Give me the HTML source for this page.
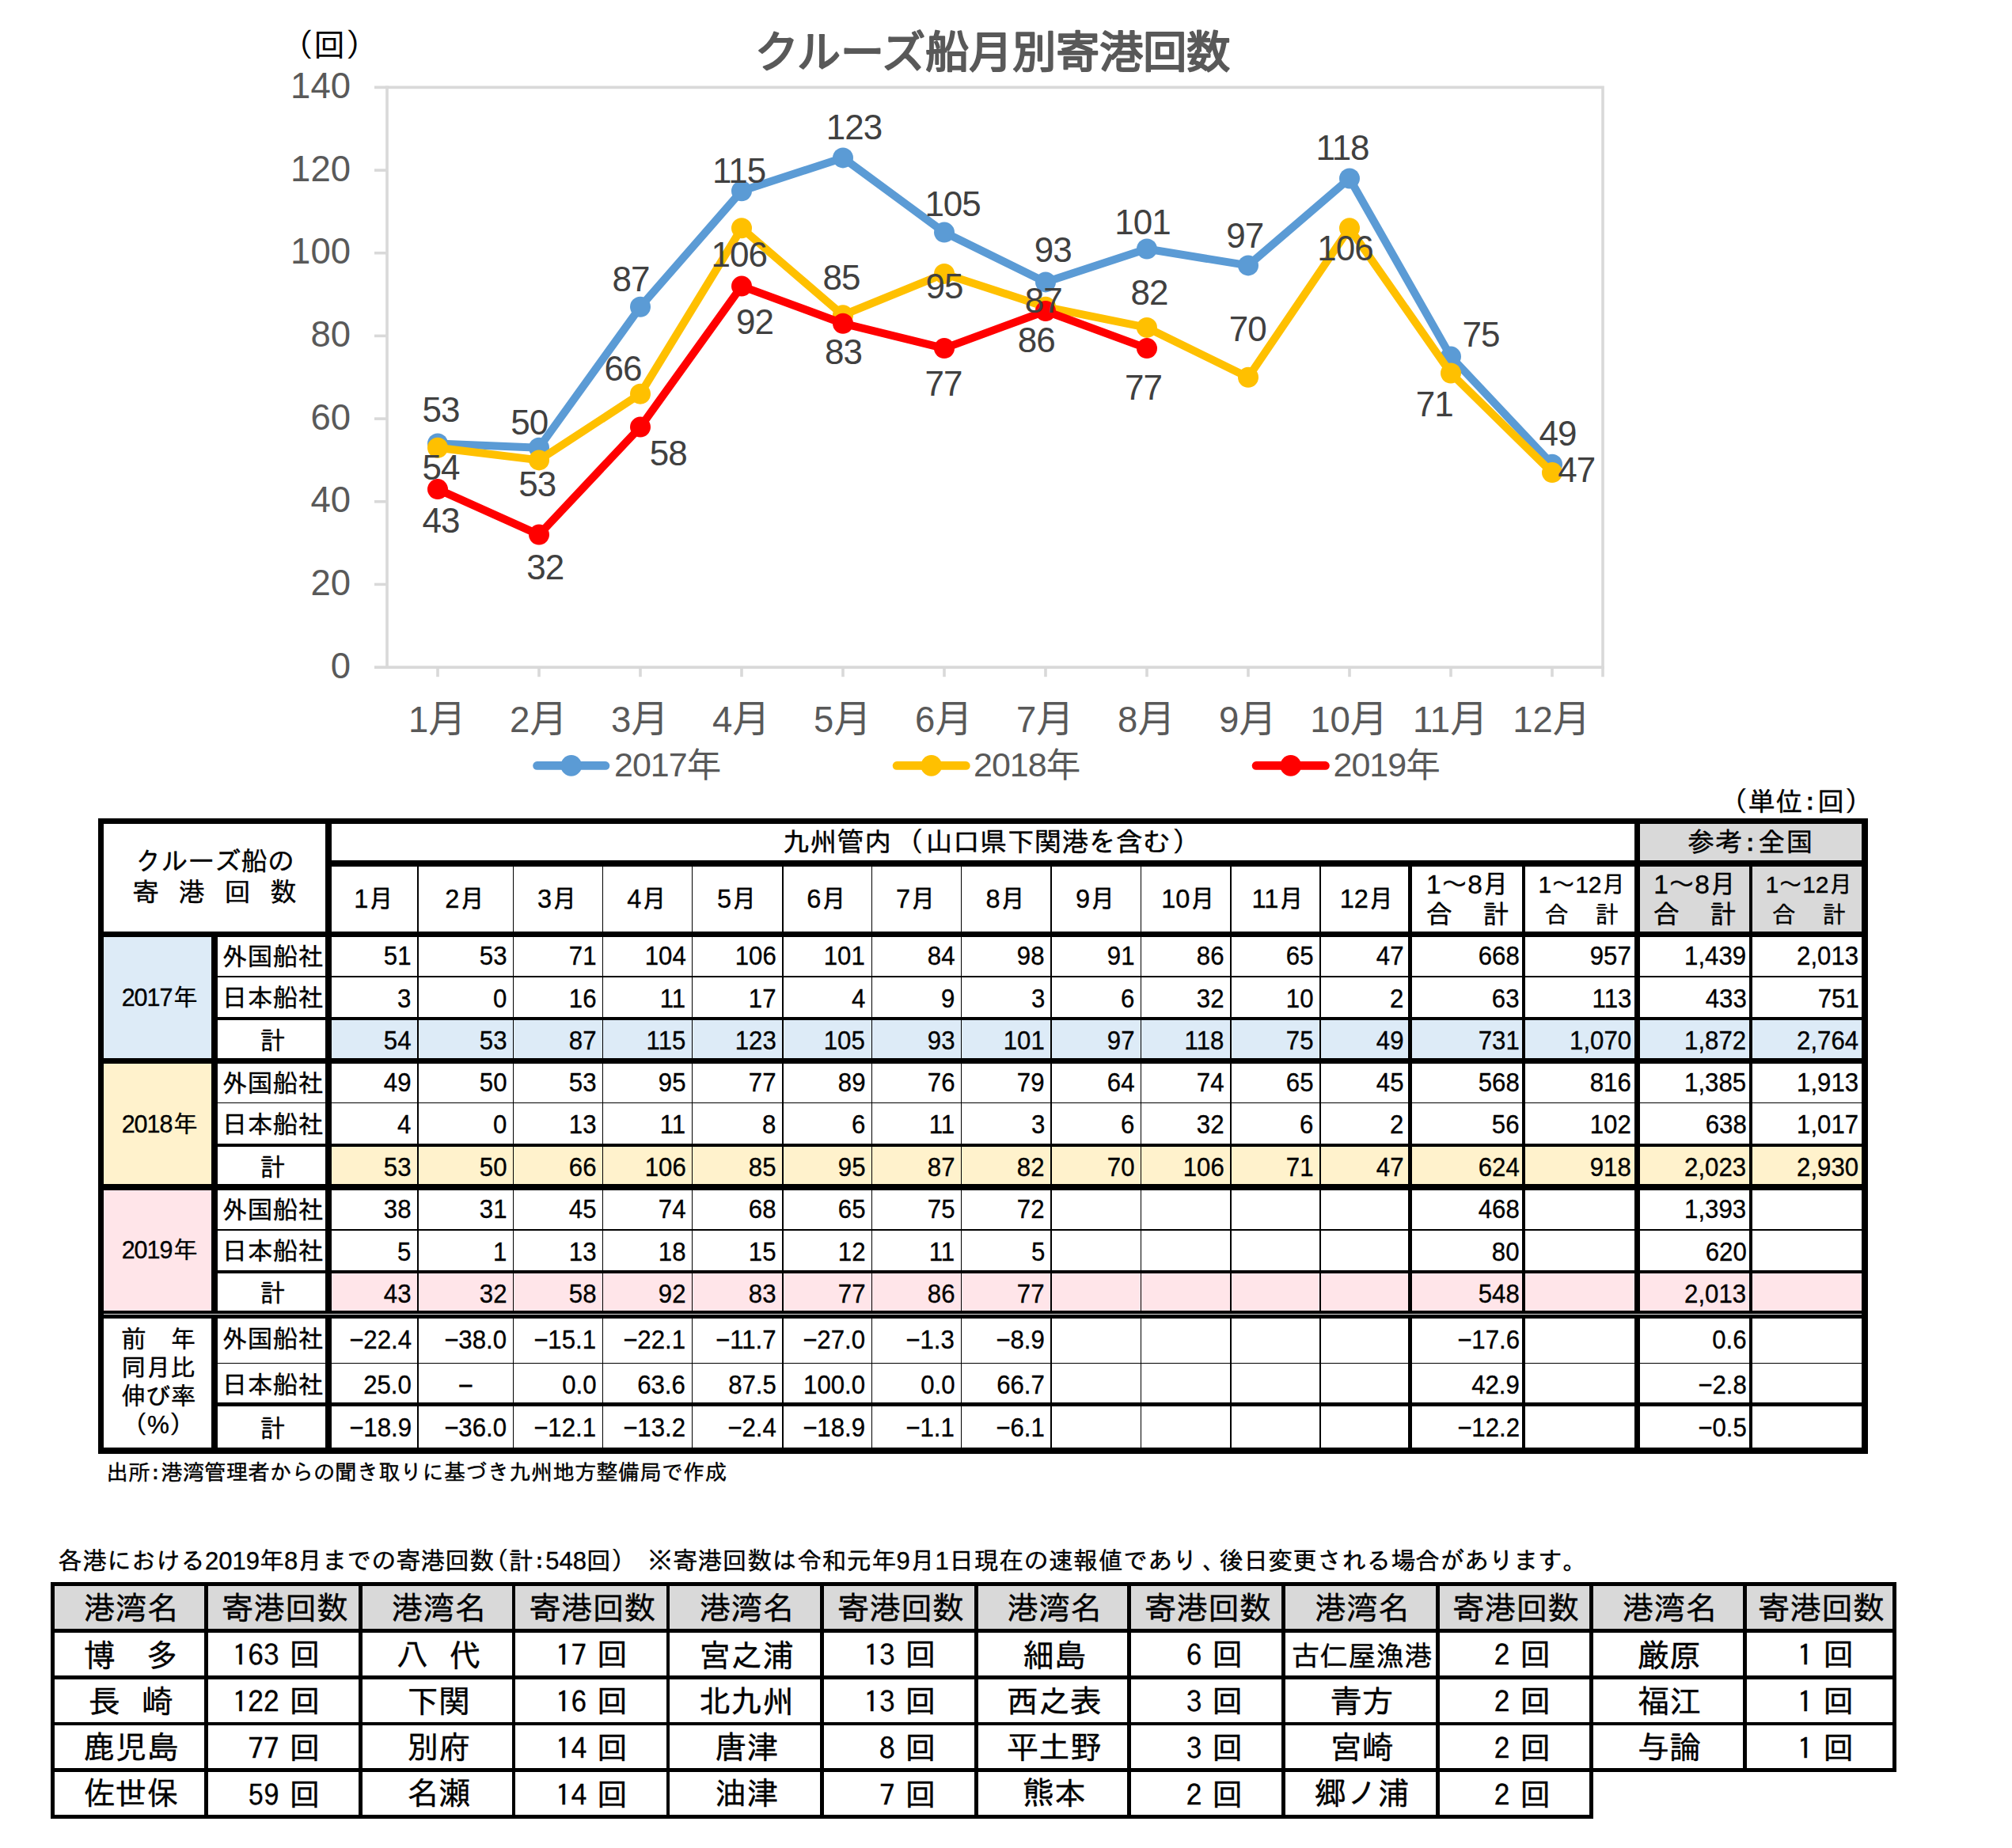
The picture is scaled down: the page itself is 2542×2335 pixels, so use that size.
<!DOCTYPE html>
<html lang="ja"><head><meta charset="utf-8"><title>クルーズ船月別寄港回数</title>
<style>
html,body{margin:0;padding:0;background:#fff;}
body{width:2542px;height:2335px;position:relative;overflow:hidden;font-family:"Liberation Sans","IPAGothic","Noto Sans CJK JP",sans-serif;color:#000;}
.r{position:absolute;}
.c,.d,.b{position:absolute;display:flex;align-items:center;justify-content:center;text-align:center;white-space:nowrap;line-height:1;overflow:visible;}
.c{font-size:32px;}
.d{font-size:32.8px;justify-content:flex-end;padding-right:7.5px;box-sizing:border-box;}
.b{font-family:"IPAGothic","Noto Sans CJK JP",sans-serif;}
.dg{display:inline-block;position:relative;top:2.2px;transform:scaleY(.9);}
.sx{display:inline-block;transform:scaleX(.95);transform-origin:100% 50%;}
.g{font-family:"IPAGothic","Noto Sans CJK JP",sans-serif !important;}
#t1,#t2,.n{-webkit-text-stroke:0.35px #000;}
.n{position:absolute;white-space:nowrap;font-family:"Liberation Sans","IPAGothic","Noto Sans CJK JP",sans-serif;}
</style></head><body>
<svg id="chart" width="2542" height="1030" viewBox="0 0 2542 1030" style="position:absolute;left:0;top:0">
<g stroke="#d9d9d9" stroke-width="3.6" fill="none" stroke-linecap="butt">
<path d="M473 110.4 H2025.0 V855.2"/>
<path d="M489.0 108.60000000000001 V843.1"/>
<path d="M473 843.1 H2026.8"/>
<path d="M473 738.4 H489.0"/>
<path d="M473 633.8 H489.0"/>
<path d="M473 529.1 H489.0"/>
<path d="M473 424.4 H489.0"/>
<path d="M473 319.7 H489.0"/>
<path d="M473 215.1 H489.0"/>
<path d="M553.0 843.1 V855.2"/>
<path d="M681.0 843.1 V855.2"/>
<path d="M809.0 843.1 V855.2"/>
<path d="M937.0 843.1 V855.2"/>
<path d="M1065.0 843.1 V855.2"/>
<path d="M1193.0 843.1 V855.2"/>
<path d="M1321.0 843.1 V855.2"/>
<path d="M1449.0 843.1 V855.2"/>
<path d="M1577.0 843.1 V855.2"/>
<path d="M1705.0 843.1 V855.2"/>
<path d="M1833.0 843.1 V855.2"/>
<path d="M1961.0 843.1 V855.2"/>
</g>
<g font-family="'Liberation Sans', sans-serif" font-size="45.5" fill="#595959" text-anchor="end">
<text x="443" y="856.7">0</text>
<text x="443" y="752.0">20</text>
<text x="443" y="647.4">40</text>
<text x="443" y="542.7">60</text>
<text x="443" y="438.0">80</text>
<text x="443" y="333.3">100</text>
<text x="443" y="228.7">120</text>
<text x="443" y="124.0">140</text>
</g>
<g font-size="45.5" fill="#595959" text-anchor="middle">
<text x="552.3" y="925.2"><tspan font-family="'Liberation Sans', sans-serif">1</tspan><tspan font-family="'Noto Sans CJK JP', sans-serif" font-size="47.5" dy="-0.6">月</tspan></text>
<text x="680.3" y="925.2"><tspan font-family="'Liberation Sans', sans-serif">2</tspan><tspan font-family="'Noto Sans CJK JP', sans-serif" font-size="47.5" dy="-0.6">月</tspan></text>
<text x="808.3" y="925.2"><tspan font-family="'Liberation Sans', sans-serif">3</tspan><tspan font-family="'Noto Sans CJK JP', sans-serif" font-size="47.5" dy="-0.6">月</tspan></text>
<text x="936.3" y="925.2"><tspan font-family="'Liberation Sans', sans-serif">4</tspan><tspan font-family="'Noto Sans CJK JP', sans-serif" font-size="47.5" dy="-0.6">月</tspan></text>
<text x="1064.3" y="925.2"><tspan font-family="'Liberation Sans', sans-serif">5</tspan><tspan font-family="'Noto Sans CJK JP', sans-serif" font-size="47.5" dy="-0.6">月</tspan></text>
<text x="1192.3" y="925.2"><tspan font-family="'Liberation Sans', sans-serif">6</tspan><tspan font-family="'Noto Sans CJK JP', sans-serif" font-size="47.5" dy="-0.6">月</tspan></text>
<text x="1320.3" y="925.2"><tspan font-family="'Liberation Sans', sans-serif">7</tspan><tspan font-family="'Noto Sans CJK JP', sans-serif" font-size="47.5" dy="-0.6">月</tspan></text>
<text x="1448.3" y="925.2"><tspan font-family="'Liberation Sans', sans-serif">8</tspan><tspan font-family="'Noto Sans CJK JP', sans-serif" font-size="47.5" dy="-0.6">月</tspan></text>
<text x="1576.3" y="925.2"><tspan font-family="'Liberation Sans', sans-serif">9</tspan><tspan font-family="'Noto Sans CJK JP', sans-serif" font-size="47.5" dy="-0.6">月</tspan></text>
<text x="1704.3" y="925.2"><tspan font-family="'Liberation Sans', sans-serif">10</tspan><tspan font-family="'Noto Sans CJK JP', sans-serif" font-size="47.5" dy="-0.6">月</tspan></text>
<text x="1832.3" y="925.2"><tspan font-family="'Liberation Sans', sans-serif">11</tspan><tspan font-family="'Noto Sans CJK JP', sans-serif" font-size="47.5" dy="-0.6">月</tspan></text>
<text x="1960.3" y="925.2"><tspan font-family="'Liberation Sans', sans-serif">12</tspan><tspan font-family="'Noto Sans CJK JP', sans-serif" font-size="47.5" dy="-0.6">月</tspan></text>
</g>
<polyline points="553.0,560.5 681.0,565.7 809.0,387.8 937.0,241.2 1065.0,199.4 1193.0,293.6 1321.0,356.4 1449.0,314.5 1577.0,335.4 1705.0,225.5 1833.0,450.6 1961.0,586.7" fill="none" stroke="#5b9bd5" stroke-width="10" stroke-linejoin="round" stroke-linecap="round"/>
<circle cx="553.0" cy="560.5" r="13" fill="#5b9bd5"/>
<circle cx="681.0" cy="565.7" r="13" fill="#5b9bd5"/>
<circle cx="809.0" cy="387.8" r="13" fill="#5b9bd5"/>
<circle cx="937.0" cy="241.2" r="13" fill="#5b9bd5"/>
<circle cx="1065.0" cy="199.4" r="13" fill="#5b9bd5"/>
<circle cx="1193.0" cy="293.6" r="13" fill="#5b9bd5"/>
<circle cx="1321.0" cy="356.4" r="13" fill="#5b9bd5"/>
<circle cx="1449.0" cy="314.5" r="13" fill="#5b9bd5"/>
<circle cx="1577.0" cy="335.4" r="13" fill="#5b9bd5"/>
<circle cx="1705.0" cy="225.5" r="13" fill="#5b9bd5"/>
<circle cx="1833.0" cy="450.6" r="13" fill="#5b9bd5"/>
<circle cx="1961.0" cy="586.7" r="13" fill="#5b9bd5"/>
<polyline points="553.0,565.7 681.0,581.4 809.0,497.7 937.0,288.3 1065.0,398.2 1193.0,345.9 1321.0,387.8 1449.0,413.9 1577.0,476.8 1705.0,288.3 1833.0,471.5 1961.0,597.1" fill="none" stroke="#ffc000" stroke-width="10" stroke-linejoin="round" stroke-linecap="round"/>
<circle cx="553.0" cy="565.7" r="13" fill="#ffc000"/>
<circle cx="681.0" cy="581.4" r="13" fill="#ffc000"/>
<circle cx="809.0" cy="497.7" r="13" fill="#ffc000"/>
<circle cx="937.0" cy="288.3" r="13" fill="#ffc000"/>
<circle cx="1065.0" cy="398.2" r="13" fill="#ffc000"/>
<circle cx="1193.0" cy="345.9" r="13" fill="#ffc000"/>
<circle cx="1321.0" cy="387.8" r="13" fill="#ffc000"/>
<circle cx="1449.0" cy="413.9" r="13" fill="#ffc000"/>
<circle cx="1577.0" cy="476.8" r="13" fill="#ffc000"/>
<circle cx="1705.0" cy="288.3" r="13" fill="#ffc000"/>
<circle cx="1833.0" cy="471.5" r="13" fill="#ffc000"/>
<circle cx="1961.0" cy="597.1" r="13" fill="#ffc000"/>
<polyline points="553.0,618.1 681.0,675.6 809.0,539.6 937.0,361.6 1065.0,408.7 1193.0,440.1 1321.0,393.0 1449.0,440.1" fill="none" stroke="#ff0000" stroke-width="10" stroke-linejoin="round" stroke-linecap="round"/>
<circle cx="553.0" cy="618.1" r="13" fill="#ff0000"/>
<circle cx="681.0" cy="675.6" r="13" fill="#ff0000"/>
<circle cx="809.0" cy="539.6" r="13" fill="#ff0000"/>
<circle cx="937.0" cy="361.6" r="13" fill="#ff0000"/>
<circle cx="1065.0" cy="408.7" r="13" fill="#ff0000"/>
<circle cx="1193.0" cy="440.1" r="13" fill="#ff0000"/>
<circle cx="1321.0" cy="393.0" r="13" fill="#ff0000"/>
<circle cx="1449.0" cy="440.1" r="13" fill="#ff0000"/>
<g font-family="'Liberation Sans', sans-serif" font-size="44" fill="#404040" text-anchor="middle" letter-spacing="-1">
<text x="557" y="532.9">53</text>
<text x="557" y="606.4">54</text>
<text x="557" y="673.4">43</text>
<text x="668.8" y="549.2">50</text>
<text x="678.7" y="627.2">53</text>
<text x="688.7" y="731.6">32</text>
<text x="797" y="367.8">87</text>
<text x="787" y="480.6">66</text>
<text x="844.2" y="587.9">58</text>
<text x="933.7" y="231.1">115</text>
<text x="933.7" y="336.9">106</text>
<text x="953.6" y="421.5">92</text>
<text x="1079" y="176.3">123</text>
<text x="1063" y="365.8">85</text>
<text x="1065.4" y="459.7">83</text>
<text x="1203.6" y="273.3">105</text>
<text x="1193" y="376.7">95</text>
<text x="1192" y="499.5">77</text>
<text x="1330.2" y="330.9">93</text>
<text x="1318.3" y="394.9">87</text>
<text x="1309.3" y="444.9">86</text>
<text x="1443.5" y="295.7">101</text>
<text x="1452" y="385.2">82</text>
<text x="1444.5" y="504.5">77</text>
<text x="1572.8" y="313.1">97</text>
<text x="1576.2" y="431.4">70</text>
<text x="1696" y="202.3">118</text>
<text x="1699.5" y="328.9">106</text>
<text x="1871" y="438.4">75</text>
<text x="1812.3" y="525.9">71</text>
<text x="1967.9" y="563.1">49</text>
<text x="1991.7" y="608.9">47</text>
</g>
<line x1="678.5" y1="967.4" x2="765" y2="967.4" stroke="#5b9bd5" stroke-width="10.6" stroke-linecap="round"/>
<circle cx="721.75" cy="967.4" r="13.3" fill="#5b9bd5"/>
<text x="776" y="981" font-size="43" fill="#595959"><tspan font-family="'Liberation Sans', sans-serif" letter-spacing="-1">2017</tspan><tspan font-family="'Noto Sans CJK JP', sans-serif" font-size="43.5" dy="1">年</tspan></text>
<line x1="1133" y1="967.4" x2="1220.4" y2="967.4" stroke="#ffc000" stroke-width="10.6" stroke-linecap="round"/>
<circle cx="1176.7" cy="967.4" r="13.3" fill="#ffc000"/>
<text x="1230" y="981" font-size="43" fill="#595959"><tspan font-family="'Liberation Sans', sans-serif" letter-spacing="-1">2018</tspan><tspan font-family="'Noto Sans CJK JP', sans-serif" font-size="43.5" dy="1">年</tspan></text>
<line x1="1587" y1="967.4" x2="1674.5" y2="967.4" stroke="#ff0000" stroke-width="10.6" stroke-linecap="round"/>
<circle cx="1630.75" cy="967.4" r="13.3" fill="#ff0000"/>
<text x="1684.5" y="981" font-size="43" fill="#595959"><tspan font-family="'Liberation Sans', sans-serif" letter-spacing="-1">2019</tspan><tspan font-family="'Noto Sans CJK JP', sans-serif" font-size="43.5" dy="1">年</tspan></text>
<text x="1254" y="84.5" text-anchor="middle" font-family="'Noto Sans CJK JP', sans-serif" font-weight="400" font-size="55" fill="#595959" stroke="#595959" stroke-width="2.2" stroke-linejoin="round" stroke-linecap="round">クルーズ船月別寄港回数</text>
<text x="355.5" y="71.4" font-family="'IPAGothic', 'Noto Sans CJK JP', sans-serif" font-size="40.5" fill="#000">（回）</text>
</svg>
<div id="t1">
<div class="r" style="left:131.0px;top:1183.5px;width:136.0px;height:153.2px;background:#ddebf7"></div>
<div class="r" style="left:131.0px;top:1344.0px;width:136.0px;height:152.0px;background:#fff2cc"></div>
<div class="r" style="left:131.0px;top:1503.6px;width:136.0px;height:152.0px;background:#ffe5e9"></div>
<div class="r" style="left:419.0px;top:1289.0px;width:1933.0px;height:47.7px;background:#ddebf7"></div>
<div class="r" style="left:419.0px;top:1449.0px;width:1933.0px;height:47.0px;background:#fff2cc"></div>
<div class="r" style="left:419.0px;top:1609.0px;width:1933.0px;height:46.6px;background:#ffe5e9"></div>
<div class="r" style="left:2071.9px;top:1041.0px;width:280.1px;height:135.5px;background:#d9d9d9"></div>
<div class="r" style="left:124.0px;top:1034.0px;width:2235.5px;height:7.0px;background:#000"></div>
<div class="r" style="left:419.0px;top:1087.0px;width:1933.0px;height:8.0px;background:#000"></div>
<div class="r" style="left:124.0px;top:1176.5px;width:2235.5px;height:7.0px;background:#000"></div>
<div class="r" style="left:275.0px;top:1233.2px;width:2077.0px;height:1.8px;background:#000"></div>
<div class="r" style="left:275.0px;top:1284.8px;width:2077.0px;height:4.2px;background:#000"></div>
<div class="r" style="left:124.0px;top:1336.7px;width:2235.5px;height:7.3px;background:#000"></div>
<div class="r" style="left:275.0px;top:1392.7px;width:2077.0px;height:1.5px;background:#000"></div>
<div class="r" style="left:275.0px;top:1444.8px;width:2077.0px;height:4.2px;background:#000"></div>
<div class="r" style="left:124.0px;top:1496.0px;width:2235.5px;height:7.6px;background:#000"></div>
<div class="r" style="left:275.0px;top:1553.2px;width:2077.0px;height:1.5px;background:#000"></div>
<div class="r" style="left:275.0px;top:1604.8px;width:2077.0px;height:4.2px;background:#000"></div>
<div class="r" style="left:124.0px;top:1655.6px;width:2235.5px;height:4.2px;background:#000"></div>
<div class="r" style="left:124.0px;top:1661.0px;width:2235.5px;height:4.6px;background:#000"></div>
<div class="r" style="left:275.0px;top:1721.9px;width:2077.0px;height:1.3px;background:#000"></div>
<div class="r" style="left:275.0px;top:1771.7px;width:2077.0px;height:4.9px;background:#000"></div>
<div class="r" style="left:124.0px;top:1829.0px;width:2235.5px;height:7.7px;background:#000"></div>
<div class="r" style="left:124.0px;top:1034.0px;width:7.0px;height:802.7px;background:#000"></div>
<div class="r" style="left:267.0px;top:1183.5px;width:8.0px;height:645.5px;background:#000"></div>
<div class="r" style="left:411.0px;top:1034.0px;width:8.0px;height:802.7px;background:#000"></div>
<div class="r" style="left:527.2px;top:1095.0px;width:1.5px;height:734.0px;background:#000"></div>
<div class="r" style="left:647.5px;top:1095.0px;width:1.5px;height:734.0px;background:#000"></div>
<div class="r" style="left:760.6px;top:1095.0px;width:1.5px;height:734.0px;background:#000"></div>
<div class="r" style="left:873.9px;top:1095.0px;width:1.5px;height:734.0px;background:#000"></div>
<div class="r" style="left:988.0px;top:1095.0px;width:1.5px;height:734.0px;background:#000"></div>
<div class="r" style="left:1100.5px;top:1095.0px;width:1.5px;height:734.0px;background:#000"></div>
<div class="r" style="left:1213.7px;top:1095.0px;width:1.5px;height:734.0px;background:#000"></div>
<div class="r" style="left:1327.3px;top:1095.0px;width:1.5px;height:734.0px;background:#000"></div>
<div class="r" style="left:1440.7px;top:1095.0px;width:1.5px;height:734.0px;background:#000"></div>
<div class="r" style="left:1553.8px;top:1095.0px;width:2.3px;height:734.0px;background:#000"></div>
<div class="r" style="left:1667.2px;top:1095.0px;width:1.5px;height:734.0px;background:#000"></div>
<div class="r" style="left:1778.7px;top:1095.0px;width:5.5px;height:734.0px;background:#000"></div>
<div class="r" style="left:1923.2px;top:1095.0px;width:4.1px;height:734.0px;background:#000"></div>
<div class="r" style="left:2064.7px;top:1034.0px;width:7.2px;height:802.7px;background:#000"></div>
<div class="r" style="left:2209.8px;top:1095.0px;width:4.2px;height:734.0px;background:#000"></div>
<div class="r" style="left:2352.0px;top:1034.0px;width:7.5px;height:802.7px;background:#000"></div>
<div class="r" style="left:131.0px;top:1659.8px;width:2221.0px;height:1.2px;background:#e8e8e8"></div>
<div class="c" style="left:131.0px;top:1041.0px;width:280.0px;height:135.5px;"><div style="position:absolute;left:0;right:0;top:31px;font-size:33.5px;line-height:34px">クルーズ船の</div><div style="position:absolute;left:0;right:0;top:70px;font-size:33.5px;line-height:34px;letter-spacing:24.5px;margin-left:24.5px">寄港回数</div></div>
<div class="c" style="left:419.0px;top:1041.0px;width:1645.7px;height:46.0px;font-size:34.3px;padding-left:20.8px;box-sizing:border-box;">九州管内<span style="margin:0 3px 0 6px">（</span>山口県下関港を含む<span style="margin-left:3px">）</span></div>
<div class="c" style="left:2071.9px;top:1041.0px;width:280.1px;height:46.0px;font-size:34px;letter-spacing:1.4px;">参考<span class="g">:</span>全国</div>
<div class="c" style="left:419.0px;top:1095.0px;width:108.2px;height:81.5px;font-size:32.5px;box-sizing:border-box;padding-right:1px;">1月</div>
<div class="c" style="left:528.8px;top:1095.0px;width:118.7px;height:81.5px;font-size:32.5px;box-sizing:border-box;padding-right:1px;">2月</div>
<div class="c" style="left:649.0px;top:1095.0px;width:111.7px;height:81.5px;font-size:32.5px;box-sizing:border-box;padding-right:1px;">3月</div>
<div class="c" style="left:762.1px;top:1095.0px;width:111.7px;height:81.5px;font-size:32.5px;box-sizing:border-box;padding-right:1px;">4月</div>
<div class="c" style="left:875.4px;top:1095.0px;width:112.6px;height:81.5px;font-size:32.5px;box-sizing:border-box;padding-right:1px;">5月</div>
<div class="c" style="left:989.5px;top:1095.0px;width:111.1px;height:81.5px;font-size:32.5px;box-sizing:border-box;padding-right:1px;">6月</div>
<div class="c" style="left:1102.0px;top:1095.0px;width:111.6px;height:81.5px;font-size:32.5px;box-sizing:border-box;padding-right:1px;">7月</div>
<div class="c" style="left:1215.2px;top:1095.0px;width:112.2px;height:81.5px;font-size:32.5px;box-sizing:border-box;padding-right:1px;">8月</div>
<div class="c" style="left:1328.8px;top:1095.0px;width:111.8px;height:81.5px;font-size:32.5px;box-sizing:border-box;padding-right:1px;">9月</div>
<div class="c" style="left:1442.2px;top:1095.0px;width:112.0px;height:81.5px;font-size:32.5px;box-sizing:border-box;padding-left:6.6px;">10月</div>
<div class="c" style="left:1555.7px;top:1095.0px;width:111.5px;height:81.5px;font-size:32.5px;box-sizing:border-box;padding-left:6.6px;">11月</div>
<div class="c" style="left:1668.7px;top:1095.0px;width:110.0px;height:81.5px;font-size:32.5px;box-sizing:border-box;padding-left:6.6px;">12月</div>
<div class="c" style="left:1784.2px;top:1095.0px;width:139.0px;height:81.5px;"><div style="position:absolute;left:0.5px;right:-0.5px;top:5.5px;font-size:33.5px;line-height:34px">1～8月</div><div style="position:absolute;left:0.5px;right:-0.5px;top:43.5px;font-size:33.5px;line-height:34px">合<span style="display:inline-block;width:38px"></span>計</div></div>
<div class="c" style="left:1927.3px;top:1095.0px;width:137.4px;height:81.5px;"><div style="position:absolute;left:2.5px;right:-2.5px;top:5.5px;font-size:30px;line-height:34px">1～12月</div><div style="position:absolute;left:2.5px;right:-2.5px;top:43.5px;font-size:30px;line-height:34px">合<span style="display:inline-block;width:33.5px"></span>計</div></div>
<div class="c" style="left:2071.9px;top:1095.0px;width:137.9px;height:81.5px;"><div style="position:absolute;left:0.5px;right:-0.5px;top:5.5px;font-size:33.5px;line-height:34px">1～8月</div><div style="position:absolute;left:0.5px;right:-0.5px;top:43.5px;font-size:33.5px;line-height:34px">合<span style="display:inline-block;width:38px"></span>計</div></div>
<div class="c" style="left:2214.0px;top:1095.0px;width:138.0px;height:81.5px;"><div style="position:absolute;left:2.5px;right:-2.5px;top:5.5px;font-size:30px;line-height:34px">1～12月</div><div style="position:absolute;left:2.5px;right:-2.5px;top:43.5px;font-size:30px;line-height:34px">合<span style="display:inline-block;width:33.5px"></span>計</div></div>
<div class="c" style="left:131.0px;top:1183.5px;width:136.0px;height:153.2px;font-size:30.5px;padding-left:5px;box-sizing:border-box;"><span style="letter-spacing:-1px">2017</span><span style="margin-left:1.4px">年</span></div>
<div class="c" style="left:131.0px;top:1344.0px;width:136.0px;height:152.0px;font-size:30.5px;padding-left:5px;box-sizing:border-box;"><span style="letter-spacing:-1px">2018</span><span style="margin-left:1.4px">年</span></div>
<div class="c" style="left:131.0px;top:1503.6px;width:136.0px;height:152.0px;font-size:30.5px;padding-left:5px;box-sizing:border-box;"><span style="letter-spacing:-1px">2019</span><span style="margin-left:1.4px">年</span></div>
<div class="c" style="left:131.0px;top:1665.6px;width:136.0px;height:163.4px;"><div style="font-size:31.3px;line-height:36px;margin-top:-1.2px;margin-left:2px">前<span style="display:inline-block;width:31.3px"></span>年<br>同月比<br>伸び率<br>（%）</div></div>
<div class="c" style="left:275.0px;top:1184.0px;width:136.0px;height:49.7px;font-size:32px;padding-left:2.8px;box-sizing:border-box;">外国船社</div>
<div class="c" style="left:275.0px;top:1236.5px;width:136.0px;height:49.8px;font-size:32px;padding-left:2.8px;box-sizing:border-box;">日本船社</div>
<div class="c" style="left:275.0px;top:1291.2px;width:136.0px;height:47.7px;font-size:32px;padding-left:2.8px;box-sizing:border-box;">計</div>
<div class="c" style="left:275.0px;top:1344.5px;width:136.0px;height:48.7px;font-size:32px;padding-left:2.8px;box-sizing:border-box;">外国船社</div>
<div class="c" style="left:275.0px;top:1395.7px;width:136.0px;height:50.6px;font-size:32px;padding-left:2.8px;box-sizing:border-box;">日本船社</div>
<div class="c" style="left:275.0px;top:1451.2px;width:136.0px;height:47.0px;font-size:32px;padding-left:2.8px;box-sizing:border-box;">計</div>
<div class="c" style="left:275.0px;top:1504.3px;width:136.0px;height:49.6px;font-size:32px;padding-left:2.8px;box-sizing:border-box;">外国船社</div>
<div class="c" style="left:275.0px;top:1556.2px;width:136.0px;height:50.1px;font-size:32px;padding-left:2.8px;box-sizing:border-box;">日本船社</div>
<div class="c" style="left:275.0px;top:1611.2px;width:136.0px;height:46.6px;font-size:32px;padding-left:2.8px;box-sizing:border-box;">計</div>
<div class="c" style="left:275.0px;top:1664.1px;width:136.0px;height:56.3px;font-size:32px;padding-left:2.8px;box-sizing:border-box;">外国船社</div>
<div class="c" style="left:275.0px;top:1725.8px;width:136.0px;height:48.5px;font-size:32px;padding-left:2.8px;box-sizing:border-box;">日本船社</div>
<div class="c" style="left:275.0px;top:1778.4px;width:136.0px;height:52.4px;font-size:32px;padding-left:2.8px;box-sizing:border-box;">計</div>
<div class="d" style="left:419.0px;top:1184.0px;width:108.2px;height:49.7px;padding-right:7.5px;"><span class="sx">51</span></div>
<div class="d" style="left:528.8px;top:1184.0px;width:118.7px;height:49.7px;padding-right:7.5px;"><span class="sx">53</span></div>
<div class="d" style="left:649.0px;top:1184.0px;width:111.7px;height:49.7px;padding-right:7.5px;"><span class="sx">71</span></div>
<div class="d" style="left:762.1px;top:1184.0px;width:111.7px;height:49.7px;padding-right:7.5px;"><span class="sx">104</span></div>
<div class="d" style="left:875.4px;top:1184.0px;width:112.6px;height:49.7px;padding-right:7.5px;"><span class="sx">106</span></div>
<div class="d" style="left:989.5px;top:1184.0px;width:111.1px;height:49.7px;padding-right:7.5px;"><span class="sx">101</span></div>
<div class="d" style="left:1102.0px;top:1184.0px;width:111.6px;height:49.7px;padding-right:7.5px;"><span class="sx">84</span></div>
<div class="d" style="left:1215.2px;top:1184.0px;width:112.2px;height:49.7px;padding-right:7.5px;"><span class="sx">98</span></div>
<div class="d" style="left:1328.8px;top:1184.0px;width:111.8px;height:49.7px;padding-right:7.5px;"><span class="sx">91</span></div>
<div class="d" style="left:1442.2px;top:1184.0px;width:112.0px;height:49.7px;padding-right:7.5px;"><span class="sx">86</span></div>
<div class="d" style="left:1555.7px;top:1184.0px;width:111.5px;height:49.7px;padding-right:7.5px;"><span class="sx">65</span></div>
<div class="d" style="left:1668.7px;top:1184.0px;width:110.0px;height:49.7px;padding-right:5.5px;"><span class="sx">47</span></div>
<div class="d" style="left:1784.2px;top:1184.0px;width:139.0px;height:49.7px;padding-right:3.5px;"><span class="sx">668</span></div>
<div class="d" style="left:1927.3px;top:1184.0px;width:137.4px;height:49.7px;padding-right:3.5px;"><span class="sx">957</span></div>
<div class="d" style="left:2071.9px;top:1184.0px;width:137.9px;height:49.7px;padding-right:3.5px;"><span class="sx">1,439</span></div>
<div class="d" style="left:2214.0px;top:1184.0px;width:138.0px;height:49.7px;padding-right:3.5px;"><span class="sx">2,013</span></div>
<div class="d" style="left:419.0px;top:1237.0px;width:108.2px;height:49.8px;padding-right:7.5px;"><span class="sx">3</span></div>
<div class="d" style="left:528.8px;top:1237.0px;width:118.7px;height:49.8px;padding-right:7.5px;"><span class="sx">0</span></div>
<div class="d" style="left:649.0px;top:1237.0px;width:111.7px;height:49.8px;padding-right:7.5px;"><span class="sx">16</span></div>
<div class="d" style="left:762.1px;top:1237.0px;width:111.7px;height:49.8px;padding-right:7.5px;"><span class="sx">11</span></div>
<div class="d" style="left:875.4px;top:1237.0px;width:112.6px;height:49.8px;padding-right:7.5px;"><span class="sx">17</span></div>
<div class="d" style="left:989.5px;top:1237.0px;width:111.1px;height:49.8px;padding-right:7.5px;"><span class="sx">4</span></div>
<div class="d" style="left:1102.0px;top:1237.0px;width:111.6px;height:49.8px;padding-right:7.5px;"><span class="sx">9</span></div>
<div class="d" style="left:1215.2px;top:1237.0px;width:112.2px;height:49.8px;padding-right:7.5px;"><span class="sx">3</span></div>
<div class="d" style="left:1328.8px;top:1237.0px;width:111.8px;height:49.8px;padding-right:7.5px;"><span class="sx">6</span></div>
<div class="d" style="left:1442.2px;top:1237.0px;width:112.0px;height:49.8px;padding-right:7.5px;"><span class="sx">32</span></div>
<div class="d" style="left:1555.7px;top:1237.0px;width:111.5px;height:49.8px;padding-right:7.5px;"><span class="sx">10</span></div>
<div class="d" style="left:1668.7px;top:1237.0px;width:110.0px;height:49.8px;padding-right:5.5px;"><span class="sx">2</span></div>
<div class="d" style="left:1784.2px;top:1237.0px;width:139.0px;height:49.8px;padding-right:3.5px;"><span class="sx">63</span></div>
<div class="d" style="left:1927.3px;top:1237.0px;width:137.4px;height:49.8px;padding-right:3.5px;"><span class="sx">113</span></div>
<div class="d" style="left:2071.9px;top:1237.0px;width:137.9px;height:49.8px;padding-right:3.5px;"><span class="sx">433</span></div>
<div class="d" style="left:2214.0px;top:1237.0px;width:138.0px;height:49.8px;padding-right:3.5px;"><span class="sx">751</span></div>
<div class="d" style="left:419.0px;top:1291.1px;width:108.2px;height:47.7px;padding-right:7.5px;"><span class="sx">54</span></div>
<div class="d" style="left:528.8px;top:1291.1px;width:118.7px;height:47.7px;padding-right:7.5px;"><span class="sx">53</span></div>
<div class="d" style="left:649.0px;top:1291.1px;width:111.7px;height:47.7px;padding-right:7.5px;"><span class="sx">87</span></div>
<div class="d" style="left:762.1px;top:1291.1px;width:111.7px;height:47.7px;padding-right:7.5px;"><span class="sx">115</span></div>
<div class="d" style="left:875.4px;top:1291.1px;width:112.6px;height:47.7px;padding-right:7.5px;"><span class="sx">123</span></div>
<div class="d" style="left:989.5px;top:1291.1px;width:111.1px;height:47.7px;padding-right:7.5px;"><span class="sx">105</span></div>
<div class="d" style="left:1102.0px;top:1291.1px;width:111.6px;height:47.7px;padding-right:7.5px;"><span class="sx">93</span></div>
<div class="d" style="left:1215.2px;top:1291.1px;width:112.2px;height:47.7px;padding-right:7.5px;"><span class="sx">101</span></div>
<div class="d" style="left:1328.8px;top:1291.1px;width:111.8px;height:47.7px;padding-right:7.5px;"><span class="sx">97</span></div>
<div class="d" style="left:1442.2px;top:1291.1px;width:112.0px;height:47.7px;padding-right:7.5px;"><span class="sx">118</span></div>
<div class="d" style="left:1555.7px;top:1291.1px;width:111.5px;height:47.7px;padding-right:7.5px;"><span class="sx">75</span></div>
<div class="d" style="left:1668.7px;top:1291.1px;width:110.0px;height:47.7px;padding-right:5.5px;"><span class="sx">49</span></div>
<div class="d" style="left:1784.2px;top:1291.1px;width:139.0px;height:47.7px;padding-right:3.5px;"><span class="sx">731</span></div>
<div class="d" style="left:1927.3px;top:1291.1px;width:137.4px;height:47.7px;padding-right:3.5px;"><span class="sx">1,070</span></div>
<div class="d" style="left:2071.9px;top:1291.1px;width:137.9px;height:47.7px;padding-right:3.5px;"><span class="sx">1,872</span></div>
<div class="d" style="left:2214.0px;top:1291.1px;width:138.0px;height:47.7px;padding-right:3.5px;"><span class="sx">2,764</span></div>
<div class="d" style="left:419.0px;top:1344.5px;width:108.2px;height:48.7px;padding-right:7.5px;"><span class="sx">49</span></div>
<div class="d" style="left:528.8px;top:1344.5px;width:118.7px;height:48.7px;padding-right:7.5px;"><span class="sx">50</span></div>
<div class="d" style="left:649.0px;top:1344.5px;width:111.7px;height:48.7px;padding-right:7.5px;"><span class="sx">53</span></div>
<div class="d" style="left:762.1px;top:1344.5px;width:111.7px;height:48.7px;padding-right:7.5px;"><span class="sx">95</span></div>
<div class="d" style="left:875.4px;top:1344.5px;width:112.6px;height:48.7px;padding-right:7.5px;"><span class="sx">77</span></div>
<div class="d" style="left:989.5px;top:1344.5px;width:111.1px;height:48.7px;padding-right:7.5px;"><span class="sx">89</span></div>
<div class="d" style="left:1102.0px;top:1344.5px;width:111.6px;height:48.7px;padding-right:7.5px;"><span class="sx">76</span></div>
<div class="d" style="left:1215.2px;top:1344.5px;width:112.2px;height:48.7px;padding-right:7.5px;"><span class="sx">79</span></div>
<div class="d" style="left:1328.8px;top:1344.5px;width:111.8px;height:48.7px;padding-right:7.5px;"><span class="sx">64</span></div>
<div class="d" style="left:1442.2px;top:1344.5px;width:112.0px;height:48.7px;padding-right:7.5px;"><span class="sx">74</span></div>
<div class="d" style="left:1555.7px;top:1344.5px;width:111.5px;height:48.7px;padding-right:7.5px;"><span class="sx">65</span></div>
<div class="d" style="left:1668.7px;top:1344.5px;width:110.0px;height:48.7px;padding-right:5.5px;"><span class="sx">45</span></div>
<div class="d" style="left:1784.2px;top:1344.5px;width:139.0px;height:48.7px;padding-right:3.5px;"><span class="sx">568</span></div>
<div class="d" style="left:1927.3px;top:1344.5px;width:137.4px;height:48.7px;padding-right:3.5px;"><span class="sx">816</span></div>
<div class="d" style="left:2071.9px;top:1344.5px;width:137.9px;height:48.7px;padding-right:3.5px;"><span class="sx">1,385</span></div>
<div class="d" style="left:2214.0px;top:1344.5px;width:138.0px;height:48.7px;padding-right:3.5px;"><span class="sx">1,913</span></div>
<div class="d" style="left:419.0px;top:1396.5px;width:108.2px;height:50.6px;padding-right:7.5px;"><span class="sx">4</span></div>
<div class="d" style="left:528.8px;top:1396.5px;width:118.7px;height:50.6px;padding-right:7.5px;"><span class="sx">0</span></div>
<div class="d" style="left:649.0px;top:1396.5px;width:111.7px;height:50.6px;padding-right:7.5px;"><span class="sx">13</span></div>
<div class="d" style="left:762.1px;top:1396.5px;width:111.7px;height:50.6px;padding-right:7.5px;"><span class="sx">11</span></div>
<div class="d" style="left:875.4px;top:1396.5px;width:112.6px;height:50.6px;padding-right:7.5px;"><span class="sx">8</span></div>
<div class="d" style="left:989.5px;top:1396.5px;width:111.1px;height:50.6px;padding-right:7.5px;"><span class="sx">6</span></div>
<div class="d" style="left:1102.0px;top:1396.5px;width:111.6px;height:50.6px;padding-right:7.5px;"><span class="sx">11</span></div>
<div class="d" style="left:1215.2px;top:1396.5px;width:112.2px;height:50.6px;padding-right:7.5px;"><span class="sx">3</span></div>
<div class="d" style="left:1328.8px;top:1396.5px;width:111.8px;height:50.6px;padding-right:7.5px;"><span class="sx">6</span></div>
<div class="d" style="left:1442.2px;top:1396.5px;width:112.0px;height:50.6px;padding-right:7.5px;"><span class="sx">32</span></div>
<div class="d" style="left:1555.7px;top:1396.5px;width:111.5px;height:50.6px;padding-right:7.5px;"><span class="sx">6</span></div>
<div class="d" style="left:1668.7px;top:1396.5px;width:110.0px;height:50.6px;padding-right:5.5px;"><span class="sx">2</span></div>
<div class="d" style="left:1784.2px;top:1396.5px;width:139.0px;height:50.6px;padding-right:3.5px;"><span class="sx">56</span></div>
<div class="d" style="left:1927.3px;top:1396.5px;width:137.4px;height:50.6px;padding-right:3.5px;"><span class="sx">102</span></div>
<div class="d" style="left:2071.9px;top:1396.5px;width:137.9px;height:50.6px;padding-right:3.5px;"><span class="sx">638</span></div>
<div class="d" style="left:2214.0px;top:1396.5px;width:138.0px;height:50.6px;padding-right:3.5px;"><span class="sx">1,017</span></div>
<div class="d" style="left:419.0px;top:1451.5px;width:108.2px;height:47.0px;padding-right:7.5px;"><span class="sx">53</span></div>
<div class="d" style="left:528.8px;top:1451.5px;width:118.7px;height:47.0px;padding-right:7.5px;"><span class="sx">50</span></div>
<div class="d" style="left:649.0px;top:1451.5px;width:111.7px;height:47.0px;padding-right:7.5px;"><span class="sx">66</span></div>
<div class="d" style="left:762.1px;top:1451.5px;width:111.7px;height:47.0px;padding-right:7.5px;"><span class="sx">106</span></div>
<div class="d" style="left:875.4px;top:1451.5px;width:112.6px;height:47.0px;padding-right:7.5px;"><span class="sx">85</span></div>
<div class="d" style="left:989.5px;top:1451.5px;width:111.1px;height:47.0px;padding-right:7.5px;"><span class="sx">95</span></div>
<div class="d" style="left:1102.0px;top:1451.5px;width:111.6px;height:47.0px;padding-right:7.5px;"><span class="sx">87</span></div>
<div class="d" style="left:1215.2px;top:1451.5px;width:112.2px;height:47.0px;padding-right:7.5px;"><span class="sx">82</span></div>
<div class="d" style="left:1328.8px;top:1451.5px;width:111.8px;height:47.0px;padding-right:7.5px;"><span class="sx">70</span></div>
<div class="d" style="left:1442.2px;top:1451.5px;width:112.0px;height:47.0px;padding-right:7.5px;"><span class="sx">106</span></div>
<div class="d" style="left:1555.7px;top:1451.5px;width:111.5px;height:47.0px;padding-right:7.5px;"><span class="sx">71</span></div>
<div class="d" style="left:1668.7px;top:1451.5px;width:110.0px;height:47.0px;padding-right:5.5px;"><span class="sx">47</span></div>
<div class="d" style="left:1784.2px;top:1451.5px;width:139.0px;height:47.0px;padding-right:3.5px;"><span class="sx">624</span></div>
<div class="d" style="left:1927.3px;top:1451.5px;width:137.4px;height:47.0px;padding-right:3.5px;"><span class="sx">918</span></div>
<div class="d" style="left:2071.9px;top:1451.5px;width:137.9px;height:47.0px;padding-right:3.5px;"><span class="sx">2,023</span></div>
<div class="d" style="left:2214.0px;top:1451.5px;width:138.0px;height:47.0px;padding-right:3.5px;"><span class="sx">2,930</span></div>
<div class="d" style="left:419.0px;top:1504.1px;width:108.2px;height:49.6px;padding-right:7.5px;"><span class="sx">38</span></div>
<div class="d" style="left:528.8px;top:1504.1px;width:118.7px;height:49.6px;padding-right:7.5px;"><span class="sx">31</span></div>
<div class="d" style="left:649.0px;top:1504.1px;width:111.7px;height:49.6px;padding-right:7.5px;"><span class="sx">45</span></div>
<div class="d" style="left:762.1px;top:1504.1px;width:111.7px;height:49.6px;padding-right:7.5px;"><span class="sx">74</span></div>
<div class="d" style="left:875.4px;top:1504.1px;width:112.6px;height:49.6px;padding-right:7.5px;"><span class="sx">68</span></div>
<div class="d" style="left:989.5px;top:1504.1px;width:111.1px;height:49.6px;padding-right:7.5px;"><span class="sx">65</span></div>
<div class="d" style="left:1102.0px;top:1504.1px;width:111.6px;height:49.6px;padding-right:7.5px;"><span class="sx">75</span></div>
<div class="d" style="left:1215.2px;top:1504.1px;width:112.2px;height:49.6px;padding-right:7.5px;"><span class="sx">72</span></div>
<div class="d" style="left:1784.2px;top:1504.1px;width:139.0px;height:49.6px;padding-right:3.5px;"><span class="sx">468</span></div>
<div class="d" style="left:2071.9px;top:1504.1px;width:137.9px;height:49.6px;padding-right:3.5px;"><span class="sx">1,393</span></div>
<div class="d" style="left:419.0px;top:1557.0px;width:108.2px;height:50.1px;padding-right:7.5px;"><span class="sx">5</span></div>
<div class="d" style="left:528.8px;top:1557.0px;width:118.7px;height:50.1px;padding-right:7.5px;"><span class="sx">1</span></div>
<div class="d" style="left:649.0px;top:1557.0px;width:111.7px;height:50.1px;padding-right:7.5px;"><span class="sx">13</span></div>
<div class="d" style="left:762.1px;top:1557.0px;width:111.7px;height:50.1px;padding-right:7.5px;"><span class="sx">18</span></div>
<div class="d" style="left:875.4px;top:1557.0px;width:112.6px;height:50.1px;padding-right:7.5px;"><span class="sx">15</span></div>
<div class="d" style="left:989.5px;top:1557.0px;width:111.1px;height:50.1px;padding-right:7.5px;"><span class="sx">12</span></div>
<div class="d" style="left:1102.0px;top:1557.0px;width:111.6px;height:50.1px;padding-right:7.5px;"><span class="sx">11</span></div>
<div class="d" style="left:1215.2px;top:1557.0px;width:112.2px;height:50.1px;padding-right:7.5px;"><span class="sx">5</span></div>
<div class="d" style="left:1784.2px;top:1557.0px;width:139.0px;height:50.1px;padding-right:3.5px;"><span class="sx">80</span></div>
<div class="d" style="left:2071.9px;top:1557.0px;width:137.9px;height:50.1px;padding-right:3.5px;"><span class="sx">620</span></div>
<div class="d" style="left:419.0px;top:1612.0px;width:108.2px;height:46.6px;padding-right:7.5px;"><span class="sx">43</span></div>
<div class="d" style="left:528.8px;top:1612.0px;width:118.7px;height:46.6px;padding-right:7.5px;"><span class="sx">32</span></div>
<div class="d" style="left:649.0px;top:1612.0px;width:111.7px;height:46.6px;padding-right:7.5px;"><span class="sx">58</span></div>
<div class="d" style="left:762.1px;top:1612.0px;width:111.7px;height:46.6px;padding-right:7.5px;"><span class="sx">92</span></div>
<div class="d" style="left:875.4px;top:1612.0px;width:112.6px;height:46.6px;padding-right:7.5px;"><span class="sx">83</span></div>
<div class="d" style="left:989.5px;top:1612.0px;width:111.1px;height:46.6px;padding-right:7.5px;"><span class="sx">77</span></div>
<div class="d" style="left:1102.0px;top:1612.0px;width:111.6px;height:46.6px;padding-right:7.5px;"><span class="sx">86</span></div>
<div class="d" style="left:1215.2px;top:1612.0px;width:112.2px;height:46.6px;padding-right:7.5px;"><span class="sx">77</span></div>
<div class="d" style="left:1784.2px;top:1612.0px;width:139.0px;height:46.6px;padding-right:3.5px;"><span class="sx">548</span></div>
<div class="d" style="left:2071.9px;top:1612.0px;width:137.9px;height:46.6px;padding-right:3.5px;"><span class="sx">2,013</span></div>
<div class="d" style="left:419.0px;top:1664.9px;width:108.2px;height:56.3px;padding-right:7.5px;"><span class="sx">−22.4</span></div>
<div class="d" style="left:528.8px;top:1664.9px;width:118.7px;height:56.3px;padding-right:7.5px;"><span class="sx">−38.0</span></div>
<div class="d" style="left:649.0px;top:1664.9px;width:111.7px;height:56.3px;padding-right:7.5px;"><span class="sx">−15.1</span></div>
<div class="d" style="left:762.1px;top:1664.9px;width:111.7px;height:56.3px;padding-right:7.5px;"><span class="sx">−22.1</span></div>
<div class="d" style="left:875.4px;top:1664.9px;width:112.6px;height:56.3px;padding-right:7.5px;"><span class="sx">−11.7</span></div>
<div class="d" style="left:989.5px;top:1664.9px;width:111.1px;height:56.3px;padding-right:7.5px;"><span class="sx">−27.0</span></div>
<div class="d" style="left:1102.0px;top:1664.9px;width:111.6px;height:56.3px;padding-right:7.5px;"><span class="sx">−1.3</span></div>
<div class="d" style="left:1215.2px;top:1664.9px;width:112.2px;height:56.3px;padding-right:7.5px;"><span class="sx">−8.9</span></div>
<div class="d" style="left:1784.2px;top:1664.9px;width:139.0px;height:56.3px;padding-right:3.5px;"><span class="sx">−17.6</span></div>
<div class="d" style="left:2071.9px;top:1664.9px;width:137.9px;height:56.3px;padding-right:3.5px;"><span class="sx">0.6</span></div>
<div class="d" style="left:419.0px;top:1726.0px;width:108.2px;height:48.5px;padding-right:7.5px;"><span class="sx">25.0</span></div>
<div class="c" style="left:528.8px;top:1726.0px;width:118.7px;height:48.5px;font-size:33px;">−</div>
<div class="d" style="left:649.0px;top:1726.0px;width:111.7px;height:48.5px;padding-right:7.5px;"><span class="sx">0.0</span></div>
<div class="d" style="left:762.1px;top:1726.0px;width:111.7px;height:48.5px;padding-right:7.5px;"><span class="sx">63.6</span></div>
<div class="d" style="left:875.4px;top:1726.0px;width:112.6px;height:48.5px;padding-right:7.5px;"><span class="sx">87.5</span></div>
<div class="d" style="left:989.5px;top:1726.0px;width:111.1px;height:48.5px;padding-right:7.5px;"><span class="sx">100.0</span></div>
<div class="d" style="left:1102.0px;top:1726.0px;width:111.6px;height:48.5px;padding-right:7.5px;"><span class="sx">0.0</span></div>
<div class="d" style="left:1215.2px;top:1726.0px;width:112.2px;height:48.5px;padding-right:7.5px;"><span class="sx">66.7</span></div>
<div class="d" style="left:1784.2px;top:1726.0px;width:139.0px;height:48.5px;padding-right:3.5px;"><span class="sx">42.9</span></div>
<div class="d" style="left:2071.9px;top:1726.0px;width:137.9px;height:48.5px;padding-right:3.5px;"><span class="sx">−2.8</span></div>
<div class="d" style="left:419.0px;top:1778.6px;width:108.2px;height:52.4px;padding-right:7.5px;"><span class="sx">−18.9</span></div>
<div class="d" style="left:528.8px;top:1778.6px;width:118.7px;height:52.4px;padding-right:7.5px;"><span class="sx">−36.0</span></div>
<div class="d" style="left:649.0px;top:1778.6px;width:111.7px;height:52.4px;padding-right:7.5px;"><span class="sx">−12.1</span></div>
<div class="d" style="left:762.1px;top:1778.6px;width:111.7px;height:52.4px;padding-right:7.5px;"><span class="sx">−13.2</span></div>
<div class="d" style="left:875.4px;top:1778.6px;width:112.6px;height:52.4px;padding-right:7.5px;"><span class="sx">−2.4</span></div>
<div class="d" style="left:989.5px;top:1778.6px;width:111.1px;height:52.4px;padding-right:7.5px;"><span class="sx">−18.9</span></div>
<div class="d" style="left:1102.0px;top:1778.6px;width:111.6px;height:52.4px;padding-right:7.5px;"><span class="sx">−1.1</span></div>
<div class="d" style="left:1215.2px;top:1778.6px;width:112.2px;height:52.4px;padding-right:7.5px;"><span class="sx">−6.1</span></div>
<div class="d" style="left:1784.2px;top:1778.6px;width:139.0px;height:52.4px;padding-right:3.5px;"><span class="sx">−12.2</span></div>
<div class="d" style="left:2071.9px;top:1778.6px;width:137.9px;height:52.4px;padding-right:3.5px;"><span class="sx">−0.5</span></div>
</div>
<div class="n g" style="left:2173.5px;top:994.5px;font-size:34.3px;line-height:34px;letter-spacing:0.6px">（単位:回）</div>
<div class="n" style="left:134.5px;top:1846px;font-size:27.5px;line-height:28px;" id="src">出所<span class="g">:</span>港湾管理者からの聞き取りに基づき九州地方整備局で作成</div>
<div class="n" style="left:73px;top:1956px;font-size:31px;line-height:32px;" id="cap">各港における2019年8月までの寄港回数<span style="margin-left:-12.4px">（</span>計<span class="g">:</span>548回）　<span style="margin-left:-15.5px;letter-spacing:0.4px">※寄港回数は令和元年9月1日現在の速報値であり</span><span style="margin-left:6px">、</span><span style="margin-left:-10px">後日変更される場合があります。</span></div>
<div id="t2">
<div class="r" style="left:66.7px;top:2001.6px;width:2326.6px;height:58.7px;background:#d9d9d9"></div>
<div class="r" style="left:64.0px;top:1998.9px;width:2332.0px;height:5.4px;background:#000"></div>
<div class="r" style="left:64.0px;top:2058.0px;width:2332.0px;height:4.7px;background:#000"></div>
<div class="r" style="left:64.0px;top:2117.1px;width:2332.0px;height:4.7px;background:#000"></div>
<div class="r" style="left:64.0px;top:2175.7px;width:2332.0px;height:4.7px;background:#000"></div>
<div class="r" style="left:64.0px;top:2234.1px;width:2332.0px;height:4.7px;background:#000"></div>
<div class="r" style="left:64.0px;top:2292.6px;width:1949.0px;height:5.4px;background:#000"></div>
<div class="r" style="left:2010.3px;top:2233.7px;width:385.7px;height:5.4px;background:#000"></div>
<div class="r" style="left:64.0px;top:1998.9px;width:5.4px;height:299.1px;background:#000"></div>
<div class="r" style="left:258.1px;top:1998.9px;width:4.7px;height:299.1px;background:#000"></div>
<div class="r" style="left:453.1px;top:1998.9px;width:4.7px;height:299.1px;background:#000"></div>
<div class="r" style="left:646.8px;top:1998.9px;width:4.7px;height:299.1px;background:#000"></div>
<div class="r" style="left:841.6px;top:1998.9px;width:4.7px;height:299.1px;background:#000"></div>
<div class="r" style="left:1036.0px;top:1998.9px;width:4.7px;height:299.1px;background:#000"></div>
<div class="r" style="left:1231.2px;top:1998.9px;width:4.7px;height:299.1px;background:#000"></div>
<div class="r" style="left:1424.4px;top:1998.9px;width:4.7px;height:299.1px;background:#000"></div>
<div class="r" style="left:1619.0px;top:1998.9px;width:4.7px;height:299.1px;background:#000"></div>
<div class="r" style="left:1814.0px;top:1998.9px;width:4.7px;height:299.1px;background:#000"></div>
<div class="r" style="left:2008.0px;top:1998.9px;width:4.7px;height:299.1px;background:#000"></div>
<div class="r" style="left:2202.1px;top:1998.9px;width:4.7px;height:240.2px;background:#000"></div>
<div class="r" style="left:2390.6px;top:1998.9px;width:5.4px;height:240.2px;background:#000"></div>
<div class="r" style="left:2007.9px;top:2236.4px;width:4.7px;height:61.6px;background:#000"></div>
<div class="b" style="left:69.0px;top:2003.9px;width:189.1px;height:54.0px;font-size:40px;padding:1px 0 0 4px;box-sizing:border-box;">港湾名</div>
<div class="b" style="left:262.9px;top:2003.9px;width:190.3px;height:54.0px;font-size:40px;padding:1px 0 0 4px;box-sizing:border-box;">寄港回数</div>
<div class="b" style="left:69.0px;top:2064.1px;width:189.1px;height:54.4px;font-size:40px;padding:0 0 0 4px;box-sizing:border-box;">博<span style="display:inline-block;width:39px"></span>多</div>
<div class="b" style="left:262.9px;top:2062.2px;width:190.3px;height:54.4px;font-size:39.5px;justify-content:flex-end;padding:0 48.4px 0 0;box-sizing:border-box;"><span class="dg" style="top:2.2px">163</span><span style="display:inline-block;width:12.5px"></span>回</div>
<div class="b" style="left:69.0px;top:2121.9px;width:189.1px;height:54.0px;font-size:40px;padding:0 0 0 4px;box-sizing:border-box;">長<span style="display:inline-block;width:27px"></span>崎</div>
<div class="b" style="left:262.9px;top:2122.1px;width:190.3px;height:54.0px;font-size:39.5px;justify-content:flex-end;padding:0 48.4px 0 0;box-sizing:border-box;"><span class="dg" style="top:1.3px">122</span><span style="display:inline-block;width:12.5px"></span>回</div>
<div class="b" style="left:69.0px;top:2179.9px;width:189.1px;height:53.7px;font-size:40px;padding:0 0 0 4px;box-sizing:border-box;">鹿児島</div>
<div class="b" style="left:262.9px;top:2180.9px;width:190.3px;height:53.7px;font-size:39.5px;justify-content:flex-end;padding:0 48.4px 0 0;box-sizing:border-box;"><span class="dg" style="top:2.2px">77</span><span style="display:inline-block;width:12.5px"></span>回</div>
<div class="b" style="left:69.0px;top:2238.4px;width:189.1px;height:54.2px;font-size:40px;padding:0 0 0 4px;box-sizing:border-box;">佐世保</div>
<div class="b" style="left:262.9px;top:2239.8px;width:190.3px;height:54.2px;font-size:39.5px;justify-content:flex-end;padding:0 48.4px 0 0;box-sizing:border-box;"><span class="dg" style="top:1.4px">59</span><span style="display:inline-block;width:12.5px"></span>回</div>
<div class="b" style="left:457.9px;top:2003.9px;width:188.9px;height:54.0px;font-size:40px;padding:1px 0 0 4px;box-sizing:border-box;">港湾名</div>
<div class="b" style="left:651.5px;top:2003.9px;width:190.2px;height:54.0px;font-size:40px;padding:1px 0 0 4px;box-sizing:border-box;">寄港回数</div>
<div class="b" style="left:457.9px;top:2064.1px;width:188.9px;height:54.4px;font-size:40px;padding:0 0 0 4px;box-sizing:border-box;">八<span style="display:inline-block;width:27px"></span>代</div>
<div class="b" style="left:651.5px;top:2062.2px;width:190.2px;height:54.4px;font-size:39.5px;justify-content:flex-end;padding:0 48.4px 0 0;box-sizing:border-box;"><span class="dg" style="top:2.2px">17</span><span style="display:inline-block;width:12.5px"></span>回</div>
<div class="b" style="left:457.9px;top:2121.9px;width:188.9px;height:54.0px;font-size:40px;padding:0 0 0 4px;box-sizing:border-box;">下関</div>
<div class="b" style="left:651.5px;top:2122.1px;width:190.2px;height:54.0px;font-size:39.5px;justify-content:flex-end;padding:0 48.4px 0 0;box-sizing:border-box;"><span class="dg" style="top:1.3px">16</span><span style="display:inline-block;width:12.5px"></span>回</div>
<div class="b" style="left:457.9px;top:2179.9px;width:188.9px;height:53.7px;font-size:40px;padding:0 0 0 4px;box-sizing:border-box;">別府</div>
<div class="b" style="left:651.5px;top:2180.9px;width:190.2px;height:53.7px;font-size:39.5px;justify-content:flex-end;padding:0 48.4px 0 0;box-sizing:border-box;"><span class="dg" style="top:2.2px">14</span><span style="display:inline-block;width:12.5px"></span>回</div>
<div class="b" style="left:457.9px;top:2238.4px;width:188.9px;height:54.2px;font-size:40px;padding:0 0 0 4px;box-sizing:border-box;">名瀬</div>
<div class="b" style="left:651.5px;top:2239.8px;width:190.2px;height:54.2px;font-size:39.5px;justify-content:flex-end;padding:0 48.4px 0 0;box-sizing:border-box;"><span class="dg" style="top:1.4px">14</span><span style="display:inline-block;width:12.5px"></span>回</div>
<div class="b" style="left:846.4px;top:2003.9px;width:189.6px;height:54.0px;font-size:40px;padding:1px 0 0 4px;box-sizing:border-box;">港湾名</div>
<div class="b" style="left:1040.6px;top:2003.9px;width:190.6px;height:54.0px;font-size:40px;padding:1px 0 0 4px;box-sizing:border-box;">寄港回数</div>
<div class="b" style="left:846.4px;top:2064.1px;width:189.6px;height:54.4px;font-size:40px;padding:0 0 0 4px;box-sizing:border-box;">宮之浦</div>
<div class="b" style="left:1040.6px;top:2062.2px;width:190.6px;height:54.4px;font-size:39.5px;justify-content:flex-end;padding:0 48.4px 0 0;box-sizing:border-box;"><span class="dg" style="top:2.2px">13</span><span style="display:inline-block;width:12.5px"></span>回</div>
<div class="b" style="left:846.4px;top:2121.9px;width:189.6px;height:54.0px;font-size:40px;padding:0 0 0 4px;box-sizing:border-box;">北九州</div>
<div class="b" style="left:1040.6px;top:2122.1px;width:190.6px;height:54.0px;font-size:39.5px;justify-content:flex-end;padding:0 48.4px 0 0;box-sizing:border-box;"><span class="dg" style="top:1.3px">13</span><span style="display:inline-block;width:12.5px"></span>回</div>
<div class="b" style="left:846.4px;top:2179.9px;width:189.6px;height:53.7px;font-size:40px;padding:0 0 0 4px;box-sizing:border-box;">唐津</div>
<div class="b" style="left:1040.6px;top:2180.9px;width:190.6px;height:53.7px;font-size:39.5px;justify-content:flex-end;padding:0 48.4px 0 0;box-sizing:border-box;"><span class="dg" style="top:2.2px">8</span><span style="display:inline-block;width:12.5px"></span>回</div>
<div class="b" style="left:846.4px;top:2238.4px;width:189.6px;height:54.2px;font-size:40px;padding:0 0 0 4px;box-sizing:border-box;">油津</div>
<div class="b" style="left:1040.6px;top:2239.8px;width:190.6px;height:54.2px;font-size:39.5px;justify-content:flex-end;padding:0 48.4px 0 0;box-sizing:border-box;"><span class="dg" style="top:1.4px">7</span><span style="display:inline-block;width:12.5px"></span>回</div>
<div class="b" style="left:1235.9px;top:2003.9px;width:188.4px;height:54.0px;font-size:40px;padding:1px 0 0 4px;box-sizing:border-box;">港湾名</div>
<div class="b" style="left:1429.0px;top:2003.9px;width:189.9px;height:54.0px;font-size:40px;padding:1px 0 0 4px;box-sizing:border-box;">寄港回数</div>
<div class="b" style="left:1235.9px;top:2064.1px;width:188.4px;height:54.4px;font-size:40px;padding:0 0 0 4px;box-sizing:border-box;">細島</div>
<div class="b" style="left:1429.0px;top:2062.2px;width:189.9px;height:54.4px;font-size:39.5px;justify-content:flex-end;padding:0 48.4px 0 0;box-sizing:border-box;"><span class="dg" style="top:2.2px">6</span><span style="display:inline-block;width:12.5px"></span>回</div>
<div class="b" style="left:1235.9px;top:2121.9px;width:188.4px;height:54.0px;font-size:40px;padding:0 0 0 4px;box-sizing:border-box;">西之表</div>
<div class="b" style="left:1429.0px;top:2122.1px;width:189.9px;height:54.0px;font-size:39.5px;justify-content:flex-end;padding:0 48.4px 0 0;box-sizing:border-box;"><span class="dg" style="top:1.3px">3</span><span style="display:inline-block;width:12.5px"></span>回</div>
<div class="b" style="left:1235.9px;top:2179.9px;width:188.4px;height:53.7px;font-size:40px;padding:0 0 0 4px;box-sizing:border-box;">平土野</div>
<div class="b" style="left:1429.0px;top:2180.9px;width:189.9px;height:53.7px;font-size:39.5px;justify-content:flex-end;padding:0 48.4px 0 0;box-sizing:border-box;"><span class="dg" style="top:2.2px">3</span><span style="display:inline-block;width:12.5px"></span>回</div>
<div class="b" style="left:1235.9px;top:2238.4px;width:188.4px;height:54.2px;font-size:40px;padding:0 0 0 4px;box-sizing:border-box;">熊本</div>
<div class="b" style="left:1429.0px;top:2239.8px;width:189.9px;height:54.2px;font-size:39.5px;justify-content:flex-end;padding:0 48.4px 0 0;box-sizing:border-box;"><span class="dg" style="top:1.4px">2</span><span style="display:inline-block;width:12.5px"></span>回</div>
<div class="b" style="left:1623.6px;top:2003.9px;width:190.3px;height:54.0px;font-size:40px;padding:1px 0 0 4px;box-sizing:border-box;">港湾名</div>
<div class="b" style="left:1818.6px;top:2003.9px;width:189.3px;height:54.0px;font-size:40px;padding:1px 0 0 4px;box-sizing:border-box;">寄港回数</div>
<div class="b" style="left:1623.6px;top:2064.1px;width:190.3px;height:54.4px;font-size:35.5px;padding:0 0 0 4px;box-sizing:border-box;">古仁屋漁港</div>
<div class="b" style="left:1818.6px;top:2062.2px;width:189.3px;height:54.4px;font-size:39.5px;justify-content:flex-end;padding:0 48.4px 0 0;box-sizing:border-box;"><span class="dg" style="top:2.2px">2</span><span style="display:inline-block;width:12.5px"></span>回</div>
<div class="b" style="left:1623.6px;top:2121.9px;width:190.3px;height:54.0px;font-size:40px;padding:0 0 0 4px;box-sizing:border-box;">青方</div>
<div class="b" style="left:1818.6px;top:2122.1px;width:189.3px;height:54.0px;font-size:39.5px;justify-content:flex-end;padding:0 48.4px 0 0;box-sizing:border-box;"><span class="dg" style="top:1.3px">2</span><span style="display:inline-block;width:12.5px"></span>回</div>
<div class="b" style="left:1623.6px;top:2179.9px;width:190.3px;height:53.7px;font-size:40px;padding:0 0 0 4px;box-sizing:border-box;">宮崎</div>
<div class="b" style="left:1818.6px;top:2180.9px;width:189.3px;height:53.7px;font-size:39.5px;justify-content:flex-end;padding:0 48.4px 0 0;box-sizing:border-box;"><span class="dg" style="top:2.2px">2</span><span style="display:inline-block;width:12.5px"></span>回</div>
<div class="b" style="left:1623.6px;top:2238.4px;width:190.3px;height:54.2px;font-size:40px;padding:0 0 0 4px;box-sizing:border-box;">郷ノ浦</div>
<div class="b" style="left:1818.6px;top:2239.8px;width:189.3px;height:54.2px;font-size:39.5px;justify-content:flex-end;padding:0 48.4px 0 0;box-sizing:border-box;"><span class="dg" style="top:1.4px">2</span><span style="display:inline-block;width:12.5px"></span>回</div>
<div class="b" style="left:2012.6px;top:2003.9px;width:189.4px;height:54.0px;font-size:40px;padding:1px 0 0 4px;box-sizing:border-box;">港湾名</div>
<div class="b" style="left:2206.8px;top:2003.9px;width:184.2px;height:54.0px;font-size:40px;padding:1px 0 0 4px;box-sizing:border-box;">寄港回数</div>
<div class="b" style="left:2012.6px;top:2064.1px;width:189.4px;height:54.4px;font-size:40px;padding:0 0 0 4px;box-sizing:border-box;">厳原</div>
<div class="b" style="left:2206.8px;top:2062.2px;width:184.2px;height:54.4px;font-size:39.5px;justify-content:flex-end;padding:0 48.4px 0 0;box-sizing:border-box;"><span class="dg" style="top:2.2px">1</span><span style="display:inline-block;width:12.5px"></span>回</div>
<div class="b" style="left:2012.6px;top:2121.9px;width:189.4px;height:54.0px;font-size:40px;padding:0 0 0 4px;box-sizing:border-box;">福江</div>
<div class="b" style="left:2206.8px;top:2122.1px;width:184.2px;height:54.0px;font-size:39.5px;justify-content:flex-end;padding:0 48.4px 0 0;box-sizing:border-box;"><span class="dg" style="top:1.3px">1</span><span style="display:inline-block;width:12.5px"></span>回</div>
<div class="b" style="left:2012.6px;top:2179.9px;width:189.4px;height:53.7px;font-size:40px;padding:0 0 0 4px;box-sizing:border-box;">与論</div>
<div class="b" style="left:2206.8px;top:2180.9px;width:184.2px;height:53.7px;font-size:39.5px;justify-content:flex-end;padding:0 48.4px 0 0;box-sizing:border-box;"><span class="dg" style="top:2.2px">1</span><span style="display:inline-block;width:12.5px"></span>回</div>
</div>
</body></html>
